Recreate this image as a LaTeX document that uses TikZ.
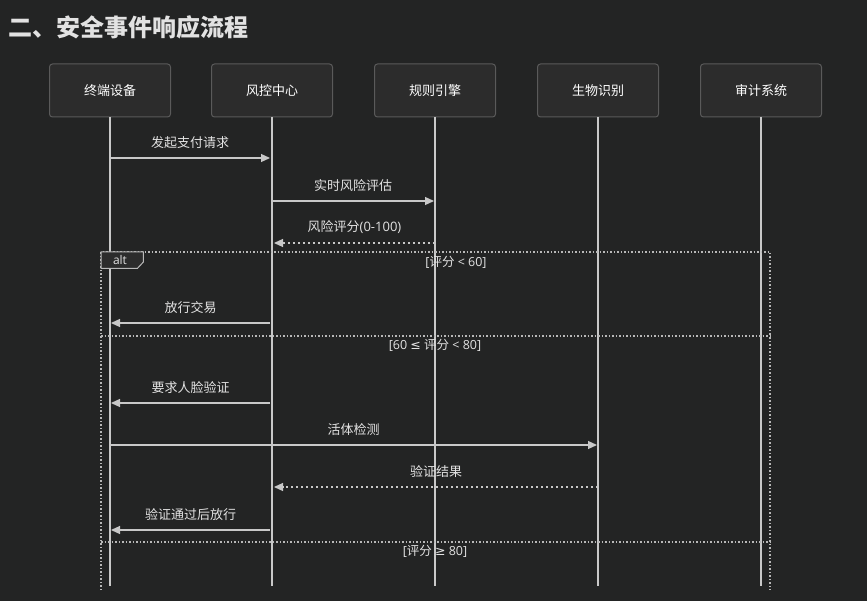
\documentclass[tikz,border=0pt]{standalone}
\usepackage{fontspec}
\setmainfont{Noto Sans CJK SC}
\newfontfamily\latinf{Open Sans}
\newfontfamily\symf{DejaVu Sans}
\usetikzlibrary{arrows.meta,calc}
\definecolor{bg}{HTML}{232424}
\definecolor{boxfill}{HTML}{2C2C2C}
\definecolor{boxline}{HTML}{5A5A5A}
\definecolor{lifec}{HTML}{C8C8C8}
\definecolor{txt}{HTML}{E2E2E2}
\definecolor{framec}{HTML}{B8B8B8}
\tikzset{
  part/.style={draw=boxline, fill=boxfill, rounded corners=3pt, line width=1pt,
    minimum width=121pt, minimum height=53pt, text=white, font=\fontsize{13pt}{15pt}\selectfont},
  life/.style={draw=lifec, line width=1.5pt},
  msg/.style={draw=lifec, line width=1.2pt, -{Triangle[length=9pt,width=8pt]}},
  reply/.style={msg, dash pattern=on 2.5pt off 2.5pt},
  lbl/.style={above=8pt, text=txt, font=\fontsize{13pt}{15pt}\selectfont, inner sep=1pt},
  frameline/.style={draw=framec, line width=1.2pt, dash pattern=on 1.5pt off 2pt},
  guard/.style={text=txt, font=\fontsize{12.5pt}{15pt}\selectfont, inner sep=1pt},
}
\begin{document}
\begin{tikzpicture}[x=1pt,y=-1pt]
\fill[bg] (0,0) rectangle (867,601);
\useasboundingbox (0,0) rectangle (867,601);
\node[anchor=west, text=txt, font=\fontsize{24pt}{28pt}\selectfont\bfseries, inner sep=0pt] (title) at (8,27) {二、安全事件响应流程};

% participants
\node[part] (p1) at (110,90.5) {终端设备};
\node[part] (p2) at (272,90.5) {风控中心};
\node[part] (p3) at (435,90.5) {规则引擎};
\node[part] (p4) at (598,90.5) {生物识别};
\node[part] (p5) at (761,90.5) {审计系统};
\foreach \i/\x in {1/110,2/272,3/435,4/598,5/761}{
  \coordinate (e\i) at (\x,586);
  \draw[life] (p\i.south) -- (e\i);
}

% alt frame
\coordinate (fa) at (101,252);
\coordinate (fb) at (770,252);
\coordinate (fc) at (770,590);
\coordinate (fd) at (101,590);
\draw[frameline] (fd) -- (fa) -- (fb) -- (fc);
\node[inner sep=0pt, minimum width=42pt, minimum height=16pt, anchor=north west, shape=rectangle] (tag) at (fa) {};
\draw[draw=framec, fill=boxfill, line width=1pt] (tag.north west) -- (tag.north east) -- ($(tag.north east)+(0,10)$) -- ($(tag.south east)+(-6,0)$) -- (tag.south west) -- cycle;
\node[text=txt, font=\latinf\fontsize{12pt}{14pt}\selectfont, inner sep=0pt] (alt) at (120,260) {alt};
\node[guard] (g1) at (456,262) {{\latinf[}评分{\latinf\ <\ 60]}};

% messages
\coordinate (m1a) at (110,158); \coordinate (m1b) at (270,158);
\draw[msg] (m1a) -- node[lbl] (l1) {发起支付请求} (m1b);
\coordinate (m2a) at (272,201); \coordinate (m2b) at (434,201);
\draw[msg] (m2a) -- node[lbl] (l2) {实时风险评估} (m2b);
\coordinate (m3a) at (435,243); \coordinate (m3b) at (274,243);
\draw[reply] (m3a) -- node[lbl] (l3) {风险评分{\latinf(0-100)}} (m3b);

\coordinate (m4a) at (270,323); \coordinate (m4b) at (111,323);
\draw[msg] (m4a) -- node[lbl] (l4) {放行交易} (m4b);

\coordinate (s1a) at (101,336); \coordinate (s1b) at (770,336);
\draw[frameline] (s1a) -- (s1b);
\node[guard] (g2) at (435,345) {{\latinf[60 }{\symf≤}{\latinf\ }评分{\latinf\ <\ 80]}};

\coordinate (m5a) at (270,403); \coordinate (m5b) at (111,403);
\draw[msg] (m5a) -- node[lbl] (l5) {要求人脸验证} (m5b);
\coordinate (m6a) at (110,445); \coordinate (m6b) at (597,445);
\draw[msg] (m6a) -- node[lbl] (l6) {活体检测} (m6b);
\coordinate (m7a) at (598,487); \coordinate (m7b) at (274,487);
\draw[reply] (m7a) -- node[lbl] (l7) {验证结果} (m7b);
\coordinate (m8a) at (270,530); \coordinate (m8b) at (111,530);
\draw[msg] (m8a) -- node[lbl] (l8) {验证通过后放行} (m8b);

\coordinate (s2a) at (101,542); \coordinate (s2b) at (770,542);
\draw[frameline] (s2a) -- (s2b);
\node[guard] (g3) at (435,551) {{\latinf[}评分{\latinf\ }{\symf≥}{\latinf\ 80]}};
\end{tikzpicture}
\end{document}
